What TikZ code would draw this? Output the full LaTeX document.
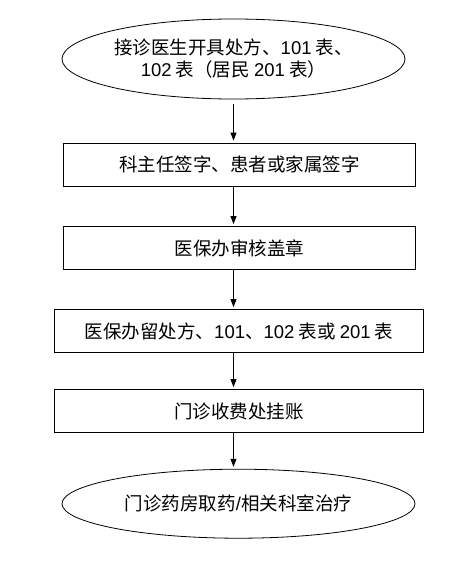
\documentclass[tikz,border=0pt]{standalone}
\usepackage{fontspec}
\setmainfont{Noto Sans CJK SC}
\newfontfamily\en{Liberation Sans}
\usetikzlibrary{arrows.meta,shapes.geometric}

\begin{document}
\begin{tikzpicture}[x=1pt, y=-1pt, every node/.style={font=\fontsize{18.5}{22}\selectfont}, box/.style={draw, line width=0.8pt, inner sep=0pt, align=center, minimum height=43pt}, term/.style={draw, ellipse, line width=0.8pt, inner sep=0pt, align=center}, arr/.style={-{Triangle[length=8pt,width=6pt]}, line width=0.8pt, shorten >=2pt}]
\useasboundingbox (0,0) rectangle (458,570);
\node[term, minimum width=343pt, minimum height=80pt] (start) at (233.5,59) {接诊医生开具处方、{\en 101} 表、\\{\en 102} 表（居民 {\en 201} 表）};
\node[box, minimum width=352pt] (sign) at (239.3,164.5) {科主任签字、患者或家属签字};
\node[box, minimum width=352pt] (audit) at (239.3,248) {医保办审核盖章};
\node[box, minimum width=368.6pt] (keep) at (239,331) {医保办留处方、{\en 101}、{\en 102} 表或 {\en 201} 表};
\node[box, minimum width=368.6pt] (fee) at (239,411) {门诊收费处挂账};
\node[term, minimum width=353pt, minimum height=69pt] (end) at (238.5,503.7) {门诊药房取药{\en /}相关科室治疗};
\draw[arr, shorten <=5pt] (start.south) -- (start.south |- sign.north);
\draw[arr] (sign.south -| start) -- (start |- audit.north);
\draw[arr] (audit.south -| start) -- (start |- keep.north);
\draw[arr] (keep.south -| start) -- (start |- fee.north);
\draw[arr] (fee.south -| start) -- (start |- end.north);
\end{tikzpicture}
\end{document}
